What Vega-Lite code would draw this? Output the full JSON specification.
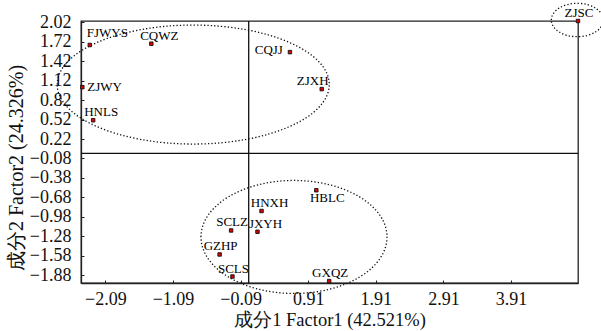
{
  "$schema": "https://vega.github.io/schema/vega-lite/v6.json",
  "width": 497,
  "height": 262,
  "autosize": {"type": "none"},
  "padding": {"left": 81, "top": 21, "right": 23, "bottom": 48},
  "background": "white",
  "config": {
    "font": "Liberation Serif",
    "view": {"stroke": "#222", "strokeWidth": 1.3},
    "text": {"font": "Liberation Serif", "fontSize": 13, "color": "#000"},
    "axis": {
      "domainColor": "#222",
      "domainWidth": 1.3,
      "tickColor": "#222",
      "tickSize": -3,
      "grid": false,
      "labelFont": "Liberation Serif",
      "labelFontSize": 18,
      "labelColor": "#111",
      "titleFont": "Liberation Serif",
      "titleFontWeight": "normal",
      "titleColor": "#111"
    }
  },
  "datasets": {
    "samples": [
      {"name": "FJWYS", "x": -2.32, "y": 1.67},
      {"name": "CQWZ", "x": -1.41, "y": 1.69},
      {"name": "ZJWY", "x": -2.43, "y": 1.02},
      {"name": "HNLS", "x": -2.27, "y": 0.51},
      {"name": "CQJJ", "x": 0.64, "y": 1.56},
      {"name": "ZJXH", "x": 1.11, "y": 0.99},
      {"name": "ZJSC", "x": 4.9, "y": 2.04},
      {"name": "HBLC", "x": 1.03, "y": -0.57},
      {"name": "HNXH", "x": 0.22, "y": -0.89},
      {"name": "SCLZ", "x": -0.23, "y": -1.19},
      {"name": "JXYH", "x": 0.16, "y": -1.21},
      {"name": "GZHP", "x": -0.4, "y": -1.56},
      {"name": "SCLS", "x": -0.21, "y": -1.9},
      {"name": "GXQZ", "x": 1.22, "y": -1.97}
    ],
    "clusters": [
      {"cluster": "A", "x": -0.79, "y": 1.06},
      {"cluster": "B", "x": 0.7, "y": -1.29},
      {"cluster": "C", "x": 4.89, "y": 2.055}
    ],
    "vline": [{"x": 0.03}],
    "hline": [{"y": 0}]
  },
  "encoding": {
    "x": {
      "field": "x",
      "type": "quantitative",
      "scale": {"domain": [-2.45, 4.9], "nice": false, "zero": false},
      "axis": {
        "values": [-2.09, -1.09, -0.09, 0.91, 1.91, 2.91, 3.91],
        "format": ".2f",
        "labelPadding": 10,
        "title": "成分1 Factor1 (42.521%)",
        "titleFontSize": 18.5,
        "titlePadding": 2
      }
    },
    "y": {
      "field": "y",
      "type": "quantitative",
      "scale": {"domain": [-2.0, 2.04], "nice": false, "zero": false},
      "axis": {
        "values": [2.02, 1.72, 1.42, 1.12, 0.82, 0.52, 0.22, -0.08, -0.38, -0.68, -0.98, -1.28, -1.58, -1.88],
        "format": ".2f",
        "labelPadding": 13,
        "title": "成分2 Factor2 (24.326%)",
        "titleFontSize": 20,
        "titleX": -55,
        "titleY": 146.5
      }
    }
  },
  "layer": [
    {
      "data": {"name": "vline"},
      "mark": {"type": "rule", "color": "#111", "strokeWidth": 1.3},
      "encoding": {"y": {"value": 0}, "y2": {"value": "height"}}
    },
    {
      "data": {"name": "hline"},
      "mark": {"type": "rule", "color": "#111", "strokeWidth": 1.3},
      "encoding": {"x": {"value": 0}, "x2": {"value": "width"}}
    },
    {
      "data": {"name": "clusters"},
      "transform": [{"filter": "datum.cluster === 'A'"}],
      "mark": {"type": "point", "filled": false, "stroke": "#111", "strokeWidth": 1.3, "strokeDash": [1.3, 2.1], "size": 73984, "opacity": 1,
        "shape": "M-1,0C-1,-0.2416,-0.5523,-0.4375,0,-0.4375C0.5523,-0.4375,1,-0.2416,1,0C1,0.2416,0.5523,0.4375,0,0.4375C-0.5523,0.4375,-1,0.2416,-1,0Z"}
    },
    {
      "data": {"name": "clusters"},
      "transform": [{"filter": "datum.cluster === 'B'"}],
      "mark": {"type": "point", "filled": false, "stroke": "#111", "strokeWidth": 1.3, "strokeDash": [1.3, 2.1], "size": 34596, "opacity": 1,
        "shape": "M-1,0C-1,-0.3355,-0.5523,-0.6075,0,-0.6075C0.5523,-0.6075,1,-0.3355,1,0C1,0.3355,0.5523,0.6075,0,0.6075C-0.5523,0.6075,-1,0.3355,-1,0Z"}
    },
    {
      "data": {"name": "clusters"},
      "transform": [{"filter": "datum.cluster === 'C'"}],
      "mark": {"type": "point", "filled": false, "stroke": "#111", "strokeWidth": 1.3, "strokeDash": [1.3, 2.1], "size": 2704, "opacity": 1,
        "shape": "M-1,0C-1,-0.3546,-0.5523,-0.642,0,-0.642C0.5523,-0.642,1,-0.3546,1,0C1,0.3546,0.5523,0.642,0,0.642C-0.5523,0.642,-1,0.3546,-1,0Z"}
    },
    {
      "data": {"name": "samples"},
      "mark": {"type": "point", "shape": "square", "filled": true, "fill": "#e00000", "stroke": "#111", "strokeWidth": 0.9, "size": 12, "opacity": 1}
    },
    {
      "data": {"name": "samples"},
      "transform": [{"filter": {"field": "name", "oneOf": ["CQWZ", "HNLS", "HNXH", "JXYH"]}}],
      "mark": {"type": "text", "font": "Liberation Serif", "fontSize": 13, "color": "#000", "align": "center", "baseline": "middle", "dx": 8, "dy": -8},
      "encoding": {"text": {"field": "name"}}
    },
    {
      "data": {"name": "samples"},
      "transform": [{"filter": {"field": "name", "oneOf": ["SCLZ", "GZHP", "SCLS", "GXQZ", "ZJSC"]}}],
      "mark": {"type": "text", "font": "Liberation Serif", "fontSize": 13, "color": "#000", "align": "center", "baseline": "middle", "dx": 1, "dy": -8},
      "encoding": {"text": {"field": "name"}}
    },
    {
      "data": {"name": "samples"},
      "transform": [{"filter": {"field": "name", "oneOf": ["FJWYS"]}}],
      "mark": {"type": "text", "font": "Liberation Serif", "fontSize": 13, "color": "#000", "align": "left", "baseline": "middle", "dx": -3, "dy": -12},
      "encoding": {"text": {"field": "name"}}
    },
    {
      "data": {"name": "samples"},
      "transform": [{"filter": {"field": "name", "oneOf": ["ZJXH"]}}],
      "mark": {"type": "text", "font": "Liberation Serif", "fontSize": 13, "color": "#000", "align": "center", "baseline": "middle", "dx": -9, "dy": -8},
      "encoding": {"text": {"field": "name"}}
    },
    {
      "data": {"name": "samples"},
      "transform": [{"filter": {"field": "name", "oneOf": ["ZJWY"]}}],
      "mark": {"type": "text", "font": "Liberation Serif", "fontSize": 13, "color": "#000", "align": "left", "baseline": "middle", "dx": 5, "dy": 0},
      "encoding": {"text": {"field": "name"}}
    },
    {
      "data": {"name": "samples"},
      "transform": [{"filter": {"field": "name", "oneOf": ["CQJJ"]}}],
      "mark": {"type": "text", "font": "Liberation Serif", "fontSize": 13, "color": "#000", "align": "right", "baseline": "middle", "dx": -7, "dy": -2},
      "encoding": {"text": {"field": "name"}}
    },
    {
      "data": {"name": "samples"},
      "transform": [{"filter": {"field": "name", "oneOf": ["HBLC"]}}],
      "mark": {"type": "text", "font": "Liberation Serif", "fontSize": 13, "color": "#000", "align": "center", "baseline": "middle", "dx": 11, "dy": 8},
      "encoding": {"text": {"field": "name"}}
    }
  ]
}
